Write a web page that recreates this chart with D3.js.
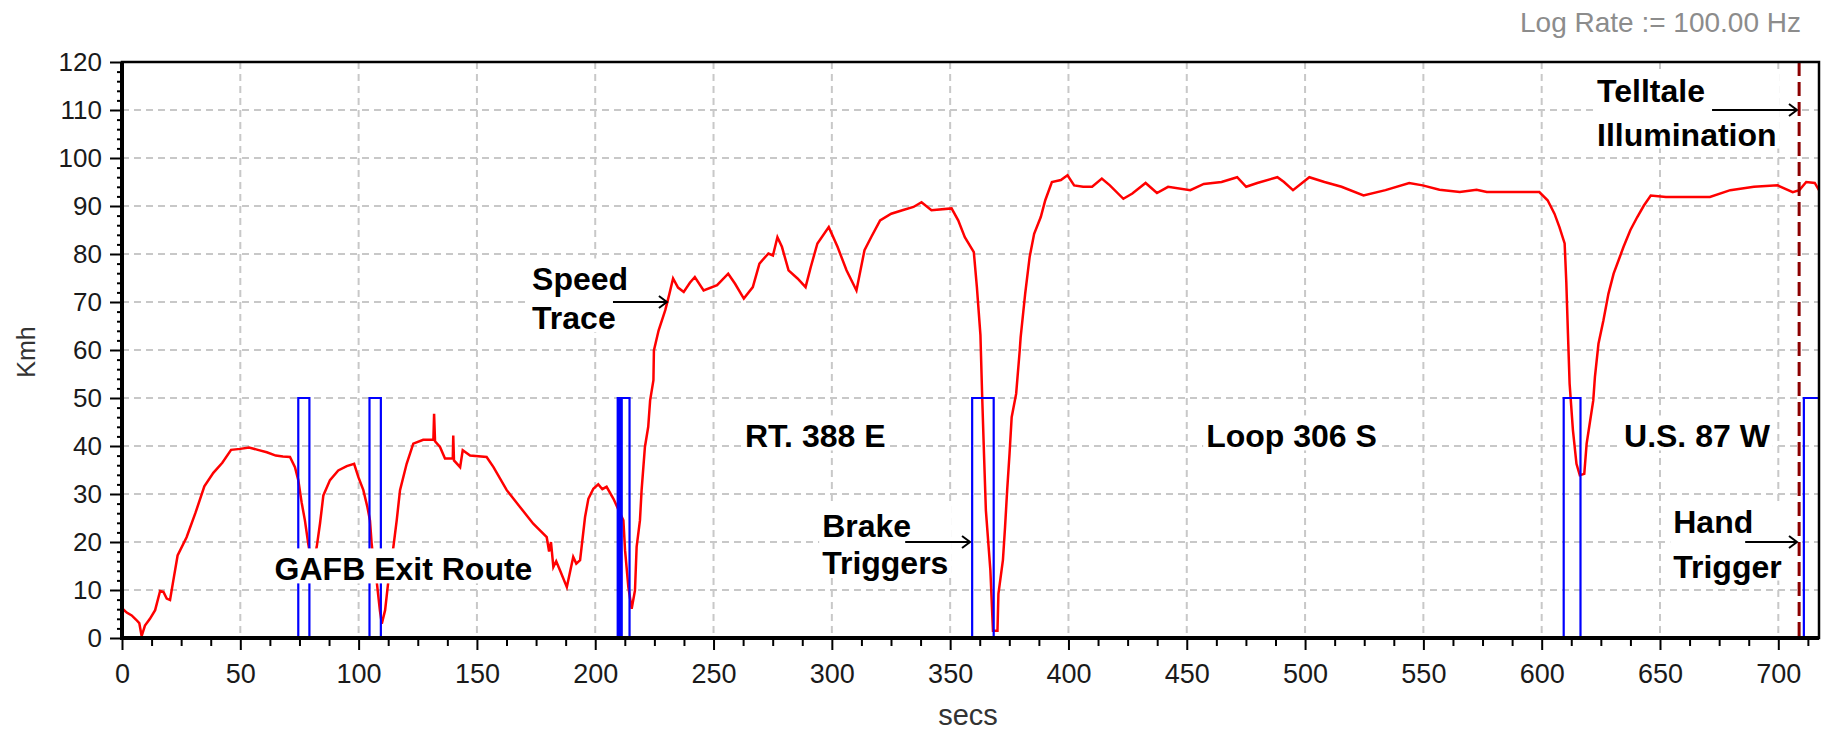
<!DOCTYPE html>
<html><head><meta charset="utf-8">
<script src="https://cdn.jsdelivr.net/npm/d3@7"></script>
<style>body{margin:0;background:#fff} svg{display:block}</style>
</head><body>
<svg id="chart" width="1826" height="730"></svg>
<script>
// ---- data ----
const speedSecs = [0,2,4.1,6,7.3,8.3,9.7,11.8,14,16.1,17.5,18.9,20.3,21.7,23.5,27.3,31,34.8,38.6,42.4,46.1,50,53.7,57.4,61.2,65,68,71,73.1,74.5,75.9,77.3,78.7,80.3,82.3,83.7,85.1,87.9,91.4,95,98.1,99.9,102,103.7,104.8,105.5,106.5,107.6,109,109.8,111.2,112.6,114.7,116.1,117.5,120.3,123.1,127.3,131.6,131.9,132.3,134.4,136.5,139.8,140,140.3,142.9,144,147.1,154.1,157,162.6,168.2,173.8,179.5,180.5,181.3,182.3,183.5,185.1,188,190.7,192,193.6,195.7,197.1,199.2,201.3,203,204.8,207.7,209,211.9,212.6,214,215.4,216.8,217.5,218.9,219.6,221,222.4,223.2,224.6,224.8,226.8,229.6,231.4,232.9,235,237.4,240,242.1,245.8,251.5,256.2,259.1,262.8,266.6,269.4,273.2,275.1,277,278.9,281.7,285.5,288.9,291.1,293.9,298.7,302.4,306.2,310.4,313.8,316.6,320.4,325.1,329.8,334.5,337.9,342.1,350.6,353.4,356.2,360,361.3,362.8,363.5,364.3,365.1,367,368.1,370,370.4,372.3,373.2,374.1,375.1,376,377.9,379.4,379.8,381.7,383.6,385.5,388.3,390.2,393,396.8,399.6,402.4,406.2,410,414.1,417.5,423.2,427,432.6,437.4,442.1,451.5,457.2,464.7,471.3,475.1,479.8,488.3,491.1,494.9,501.8,508.2,515.4,524.7,534,544,549.7,556.8,565.4,572.5,576.8,585.4,591.1,599,602.5,605.4,607.5,609.7,610.4,611.1,611.8,613.2,614.7,616.1,618,619,620.4,621.8,622.5,624,626.1,628.2,630.4,632.5,634.6,637.5,640.4,643.2,646.1,652.5,659.7,671.1,679.7,689.7,699.7,706.1,708.9,711.8,715.4,717.2];
const speedKmh = [6.2,5.3,4.7,3.8,3.1,0.4,2.6,4,5.8,9.8,9.6,8.2,7.9,12,17.2,21,26,31.6,34.4,36.5,39.2,39.4,39.7,39.2,38.7,38,37.8,37.7,35.6,32.9,28.3,24.5,19.7,15,19,23.9,29.7,32.9,34.9,35.8,36.3,33.5,30.8,27.3,24.5,19.7,15,12,5.7,3,5.8,12,19,24.5,30.8,36.3,40.5,41.3,41.3,46.7,41,39.8,37.4,37.4,42.2,37,35.6,39.1,38,37.7,35.6,30.8,27.3,23.8,21,18,20,14.8,16,14.1,10.6,16.9,15.5,16.2,25.2,29,31.1,32,31,31.5,29,27.6,24.5,18.3,10.6,6.1,9.9,19,24.5,30.8,39.8,44,49.5,53.7,59.9,64.1,68.3,71.8,74.9,73,72.1,74,75.2,72.4,73.5,75.9,73.8,70.7,73.1,78,80.1,79.7,83.5,81.5,76.6,74.9,73.1,77.3,82.2,85.6,81.5,76.6,72.4,80.8,83.5,87,88.4,89.1,89.8,90.8,89.1,89.5,87,83.5,80.4,73.1,63.1,50.9,38.4,26.6,14.1,1.5,1.5,9.2,16.2,23.1,30.8,38.4,46,50.9,59.9,62.7,71.7,79.4,84.2,87.7,91.2,95,95.4,96.4,94.3,94,94,95.7,94.3,91.5,92.6,94.8,92.7,94,93.3,94.6,95,96,94,94.8,96,95,93.3,96,95,94,92.2,93.3,94.8,94.3,93.4,92.9,93.4,92.9,92.9,92.9,92.9,91.2,88.4,85.6,82.2,74.2,63.4,53,43.3,36.3,33.9,34.2,40.5,45,49.5,54.4,61.3,66.2,71.7,75.9,78.7,81.5,85,87.7,90.1,92.2,91.9,91.9,91.9,93.3,94,94.3,92.9,93.3,95,94.8,93.3];
const triggerSecs = [0,74.5,79.2,104.6,109.4,209.5,210.4,211.2,214.5,359.3,368.4,609.3,616.4,710.8,717.2];
const triggerVals = [0,50,0,50,0,50,0,50,0,50,0,50,0,50,50];
const telltaleSec = 708.8;
const xTickValues = d3.range(0, 701, 50);
const xMinorTicks = d3.range(0, 717, 12.5);
const yTickValues = d3.range(0, 121, 10);
const yMinorTicks = d3.range(0, 121, 2);
const xLabel = "secs";
const yLabel = "Kmh";
const rateLabel = "Log Rate := 100.00 Hz";
// annotations: text lines with baseline (kmh), left edge (secs), optional arrow
const annotations = [
  {lines:["Speed","Trace"], x:173.3, ys:[72.4,64.3], arrow:{from:207.5, to:230.3, at:70}},
  {lines:["Brake","Triggers"], x:295.9, ys:[21.0,13.3], arrow:{from:331, to:358.4, at:20}},
  {lines:["RT. 388 E"], x:263.3, ys:[39.7]},
  {lines:["Loop 306 S"], x:458.2, ys:[39.7]},
  {lines:["U.S. 87 W"], x:634.8, ys:[39.7]},
  {lines:["GAFB Exit Route"], x:64.5, ys:[12.0]},
  {lines:["Telltale","Illumination"], x:623.4, ys:[111.6,102.6], arrow:{from:672, to:707.9, at:110}},
  {lines:["Hand","Trigger"], x:655.6, ys:[21.8,12.6], arrow:{from:686, to:707.9, at:20}}
];

// ---- layout ----
const svg = d3.select("#chart");
const L = 122, R = 1819, T = 62, B = 638;
const x = d3.scaleLinear().domain([0, 717.2]).range([L, R]);
const y = d3.scaleLinear().domain([0, 120]).range([B, T]);
const FONT = "'Liberation Sans', Arial, Helvetica, sans-serif";

svg.append("rect").attr("width",1826).attr("height",730).attr("fill","#fff");

// grid
const grid = svg.append("g").attr("stroke","#c8c8c8").attr("stroke-width",2).attr("stroke-dasharray","7,5");
grid.selectAll(".gx").data(xTickValues.filter(d=>d>0)).join("line")
  .attr("x1",d=>x(d)).attr("x2",d=>x(d)).attr("y1",T).attr("y2",B);
grid.selectAll(".gy").data(yTickValues.filter(d=>d>0 && d<120)).join("line")
  .attr("y1",d=>y(d)).attr("y2",d=>y(d)).attr("x1",L).attr("x2",R);

// clip
svg.append("clipPath").attr("id","clip").append("rect")
  .attr("x",L).attr("y",T).attr("width",R-L).attr("height",B-T);
const plot = svg.append("g").attr("clip-path","url(#clip)");

// speed trace
const speed = speedSecs.map((s,i)=>[s, speedKmh[i]]);
plot.append("path").datum(speed)
  .attr("fill","none").attr("stroke","#ff0000").attr("stroke-width",2.5).attr("stroke-linejoin","miter")
  .attr("d", d3.line().x(d=>x(d[0])).y(d=>y(d[1])));

// trigger step signal
const trig = triggerSecs.map((s,i)=>[s, triggerVals[i]]);
plot.append("path").datum(trig)
  .attr("fill","none").attr("stroke","#0000ff").attr("stroke-width",2.2)
  .attr("d", d3.line().curve(d3.curveStepAfter).x(d=>x(d[0])).y(d=>y(d[1])));

// telltale dashed marker
plot.append("line")
  .attr("x1",x(telltaleSec)).attr("x2",x(telltaleSec)).attr("y1",T).attr("y2",B)
  .attr("stroke","#8b0000").attr("stroke-width",3).attr("stroke-dasharray","14,6");

// annotations
const ann = svg.append("g");
annotations.forEach(a=>{
  const g = ann.append("g");
  const box = g.append("rect").attr("fill","#fff");
  const texts = a.lines.map((t,i)=> g.append("text")
      .attr("x", x(a.x)).attr("y", y(a.ys[i]))
      .attr("font-family",FONT).attr("font-weight","bold").attr("font-size",32)
      .attr("fill","#000").text(t));
  let maxW = 0;
  texts.forEach(t=>{ maxW = Math.max(maxW, t.node().getComputedTextLength()); });
  const top = y(a.ys[0]) - 32, bottom = y(a.ys[a.ys.length-1]) + 3;
  box.attr("x", x(a.x)-3).attr("y", top).attr("width", maxW+6).attr("height", bottom-top);
  if (a.arrow) {
    const ay = y(a.arrow.at), x0 = x(a.arrow.from), x1 = x(a.arrow.to);
    g.append("line").attr("x1",x0).attr("x2",x1).attr("y1",ay).attr("y2",ay)
      .attr("stroke","#000").attr("stroke-width",2);
    g.append("path").attr("d",`M${x1-8},${ay-6}L${x1},${ay}L${x1-8},${ay+6}`)
      .attr("fill","none").attr("stroke","#000").attr("stroke-width",2);
  }
});

// axes
const xAxis = svg.append("g").attr("transform",`translate(0,${B})`)
  .call(d3.axisBottom(x).tickValues(xTickValues).tickSize(12).tickPadding(14).tickFormat(d3.format("d")));
const xMinor = svg.append("g").attr("transform",`translate(0,${B})`)
  .call(d3.axisBottom(x).tickValues(xMinorTicks.filter(d=>d%50!==0)).tickSize(8).tickFormat(""));
const yAxis = svg.append("g").attr("transform",`translate(${L},0)`)
  .call(d3.axisLeft(y).tickValues(yTickValues).tickSize(12).tickPadding(8).tickFormat(d3.format("d")));
const yMinor = svg.append("g").attr("transform",`translate(${L},0)`)
  .call(d3.axisLeft(y).tickValues(yMinorTicks.filter(d=>d%10!==0)).tickSize(5).tickFormat(""));
[xAxis,xMinor,yAxis,yMinor].forEach(g=>{
  g.select(".domain").remove();
  g.selectAll(".tick line").attr("stroke","#000").attr("stroke-width",2);
});
xAxis.selectAll("text").attr("font-family",FONT).attr("font-size",27).attr("fill","#1a1a1a");
yAxis.selectAll("text").attr("font-family",FONT).attr("font-size",26).attr("fill","#1a1a1a");

// frame
svg.append("rect").attr("x",L).attr("y",T).attr("width",R-L).attr("height",B-T)
  .attr("fill","none").attr("stroke","#000").attr("stroke-width",2.5);
svg.append("line").attr("x1",L).attr("x2",L).attr("y1",T).attr("y2",B+2)
  .attr("stroke","#000").attr("stroke-width",4);
svg.append("line").attr("x1",L-2).attr("x2",R).attr("y1",B).attr("y2",B)
  .attr("stroke","#000").attr("stroke-width",4);

// titles
svg.append("text").attr("x",968).attr("y",725).attr("text-anchor","middle")
  .attr("font-family",FONT).attr("font-size",29).attr("fill","#333").text(xLabel);
svg.append("text").attr("transform","translate(35,352) rotate(-90)").attr("text-anchor","middle")
  .attr("font-family",FONT).attr("font-size",25).attr("fill","#333").text(yLabel);
svg.append("text").attr("x",1801).attr("y",32).attr("text-anchor","end")
  .attr("font-family",FONT).attr("font-size",28).attr("fill","#8c8c8c").text(rateLabel);
</script>
</body></html>
